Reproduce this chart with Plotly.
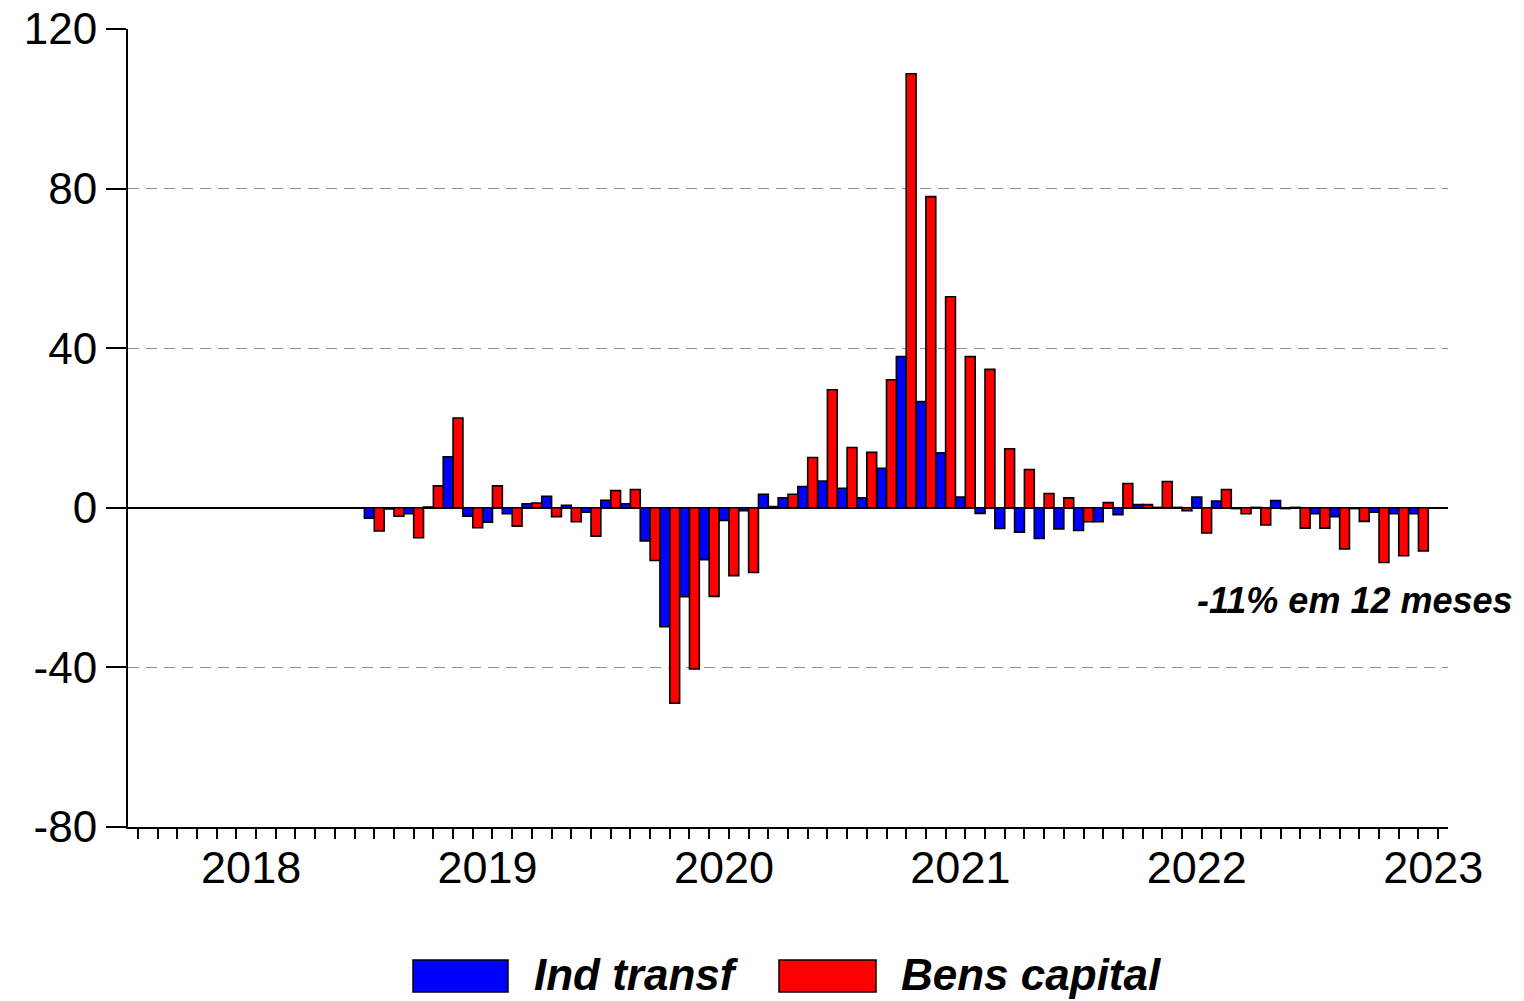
import pandas as pd
import plotly.graph_objects as go

# ---------------- data ----------------
months = pd.period_range("2019-01", "2023-06", freq="M")

ind_transf = [
    -2.6, -0.3, -1.5, 0.2, 12.8, -2.1, -3.6, -1.5, 1.0, 2.9, 0.6, -1.1,      # 2019
    1.9, 1.0, -8.3, -29.8, -22.3, -13.0, -3.2, -0.7, 3.4, 2.5, 5.3, 6.7,     # 2020
    4.9, 2.5, 9.9, 37.9, 26.6, 13.8, 2.7, -1.4, -5.2, -6.1, -7.7, -5.3,      # 2021
    -5.7, -3.5, -1.7, 0.8, 0.1, 0.1, 2.7, 1.7, -0.2, 0.1, 1.8, 0.1,          # 2022
    -1.5, -2.2, -0.2, -1.1, -1.5, -1.5,                                      # 2023
]
bens_capital = [
    -5.8, -2.1, -7.5, 5.5, 22.5, -5.0, 5.5, -4.6, 1.2, -2.2, -3.5, -7.1,
    4.3, 4.6, -13.2, -49.0, -40.4, -22.2, -17.0, -16.2, 0.3, 3.4, 12.6, 29.6,
    15.1, 13.9, 32.1, 108.8, 78.0, 52.9, 37.9, 34.7, 14.8, 9.6, 3.6, 2.5,
    -3.5, 1.3, 6.1, 0.8, 6.6, -0.7, -6.3, 4.6, -1.5, -4.3, -0.2, -5.1,
    -5.1, -10.3, -3.4, -13.7, -12.0, -10.8,
]
years = [2018, 2019, 2020, 2021, 2022, 2023]
y_ticks = [-80, -40, 0, 40, 80, 120]
series_names = ["Ind transf", "Bens capital"]
note_text = "-11% em 12 meses"

# ---------------- layout constants ----------------
W, H = 1524, 1001
ML, MR, MT, MB = 128, 76, 29, 174
FONT = "Arial, Liberation Sans, sans-serif"
BLUE, RED = "#0000FF", "#FF0000"

start_year = years[0]
xi = [(p.year - start_year) * 12 + p.month - 1 for p in months]
n_slots = len(years) * 12 - 6          # axis runs Jan 2018 .. Jul 2023
x_range = [-0.5, n_slots + 0.5]

plot_w = W - ML - MR
plot_h = H - MT - MB


def px_x(px):
    return (px - ML) / plot_w


def px_y(py):
    return (H - MB - py) / plot_h


fig = go.Figure()
fig.add_trace(go.Bar(x=xi, y=ind_transf, name=series_names[0], width=0.5, offset=-0.5,
                     marker=dict(color=BLUE, line=dict(color="black", width=1.6))))
fig.add_trace(go.Bar(x=xi, y=bens_capital, name=series_names[1], width=0.5, offset=0.0,
                     marker=dict(color=RED, line=dict(color="black", width=1.6))))

year_mid = [(y - start_year) * 12 + 5.75 for y in years]
year_start = [(y - start_year) * 12 for y in years if (y - start_year) * 12 <= n_slots]

fig.update_layout(
    width=W, height=H,
    margin=dict(l=ML, r=MR, t=MT, b=MB, pad=0, autoexpand=False),
    paper_bgcolor="white", plot_bgcolor="white",
    showlegend=False,
    font=dict(family=FONT, color="black"),
    xaxis=dict(
        range=x_range, showgrid=False, zeroline=False, automargin=False,
        showline=True, linecolor="black", linewidth=2,
        tickmode="array", tickvals=year_mid, ticktext=[str(y) for y in years],
        ticks="outside", ticklen=0, tickcolor="rgba(0,0,0,0)",
        tickfont=dict(size=45, family=FONT, color="black"),
        minor=dict(tickmode="array", tickvals=list(range(0, n_slots + 1)),
                   ticks="outside", ticklen=10, tickwidth=1.5, tickcolor="black",
                   showgrid=False),
    ),
    xaxis2=dict(
        range=x_range, overlaying="x", anchor="y", side="bottom", automargin=False,
        showgrid=False, zeroline=False, showline=False, showticklabels=False,
        tickmode="array", tickvals=year_start,
        ticks="outside", ticklen=19, tickwidth=1.5, tickcolor="black",
    ),
    yaxis=dict(
        range=[y_ticks[0], y_ticks[-1]], automargin=False,
        tickmode="array", tickvals=y_ticks, ticktext=[str(v) for v in y_ticks],
        ticks="outside", ticklen=20, tickwidth=1.5, tickcolor="black",
        tickfont=dict(size=44, family=FONT, color="black"),
        ticklabeloverflow="allow",
        showline=True, linecolor="black", linewidth=2,
        showgrid=False,
        zeroline=True, zerolinecolor="black", zerolinewidth=2,
        minor=dict(tickmode="array", tickvals=[-40, 40, 80], ticks="",
                   showgrid=True, gridcolor="#8c8c8c", gridwidth=1.4,
                   griddash="11px,7px"),
    ),
)

# manual legend (large swatches as in the reference)
legend_items = [
    (series_names[0], BLUE, 413, 508, 533),
    (series_names[1], RED, 779, 876, 900),
]
for name, col, x0, x1, tx in legend_items:
    fig.add_shape(type="rect", xref="paper", yref="paper",
                  x0=px_x(x0), x1=px_x(x1), y0=px_y(992), y1=px_y(960),
                  fillcolor=col, line=dict(color="black", width=1.5))
    fig.add_annotation(xref="paper", yref="paper", x=px_x(tx), y=px_y(975),
                       xanchor="left", yanchor="middle", showarrow=False, text=name,
                       borderpad=0,
                       font=dict(size=44, family=FONT, color="black",
                                 weight="bold", style="italic"))

fig.add_annotation(xref="paper", yref="paper", x=px_x(1355), y=px_y(600),
                   xanchor="center", yanchor="middle", showarrow=False, text=note_text,
                   font=dict(size=36, family=FONT, color="black",
                             weight="bold", style="italic"))

fig.write_html("out.html", config={"displayModeBar": False},
               post_script="document.body.style.margin='0';")
